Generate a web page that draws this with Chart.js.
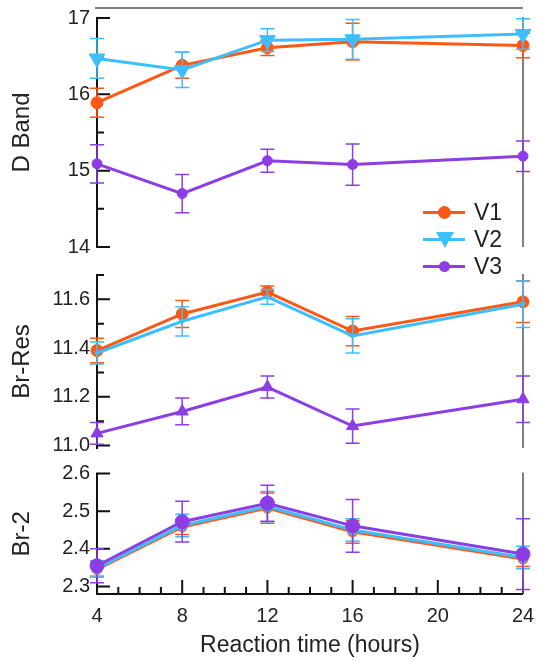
<!DOCTYPE html>
<html>
<head>
<meta charset="utf-8">
<script src="https://cdn.jsdelivr.net/npm/chart.js@4"></script>
<style>
  body { margin: 0; background: #fff; }
  #wrap { position: relative; width: 537px; height: 662px; font-family: "Liberation Sans", Arial, sans-serif; }
  canvas { position: absolute; left: 0; }
  .row { position: absolute; left: 423px; height: 26px; width: 110px; }
  .ln { position: absolute; left: 0; top: 12px; width: 42px; height: 3px; }
  .dot { position: absolute; left: 15px; top: 7px; width: 13px; height: 13px; border-radius: 50%; }
  .tri { position: absolute; left: 13px; top: 6px; width: 0; height: 0;
         border-left: 9px solid transparent; border-right: 9px solid transparent; border-top: 16px solid #3DBEFF; }
  .tx { position: absolute; left: 51px; top: 0; font-size: 23px; line-height: 26px; color: #222; }
</style>
</head>
<body>
<div id="wrap">
  <canvas id="top" width="537" height="257" style="top:0"></canvas>
  <canvas id="mid" width="537" height="204" style="top:252px"></canvas>
  <canvas id="bot" width="537" height="210" style="top:452px"></canvas>

  <div class="row" style="top:199px"><span class="ln" style="background:#FF5714"></span><span class="dot" style="background:#FF5714"></span><span class="tx">V1</span></div>
  <div class="row" style="top:226px"><span class="ln" style="background:#3DBEFF"></span><span class="tri"></span><span class="tx">V2</span></div>
  <div class="row" style="top:253px"><span class="ln" style="background:#8C3DE6"></span><span class="dot" style="background:#8C3DE6;width:11px;height:11px;left:16px;top:8px"></span><span class="tx">V3</span></div>
</div>

<script>
// reaction time (hours)
const hours = [4, 8, 12, 16, 24];
const xMajor = [4, 8, 12, 16, 20, 24];
const xMinor = [5, 6, 7, 9, 10, 11, 13, 14, 15, 17, 18, 19, 21, 22, 23];

// D Band
const dBandV1 = [15.89, 16.38, 16.61, 16.69, 16.64];
const dBandV1Err = [0.19, 0.17, 0.10, 0.24, 0.16];
const dBandV2 = [16.47, 16.32, 16.71, 16.72, 16.79];
const dBandV2Err = [0.26, 0.23, 0.15, 0.26, 0.20];
const dBandV3 = [15.09, 14.70, 15.13, 15.08, 15.19];
const dBandV3Err = [0.25, 0.25, 0.15, 0.27, 0.20];
const dBandTicks = [14, 15, 16, 17];
const dBandMinor = [14.5, 15.5, 16.5];

// Br-Res
const brResV1 = [11.39, 11.54, 11.63, 11.47, 11.59];
const brResV1Err = [0.05, 0.055, 0.025, 0.06, 0.085];
const brResV2 = [11.38, 11.51, 11.61, 11.45, 11.58];
const brResV2Err = [0.045, 0.06, 0.03, 0.07, 0.095];
const brResV3 = [11.05, 11.14, 11.24, 11.08, 11.19];
const brResV3Err = [0.045, 0.055, 0.045, 0.07, 0.095];
const brResTicks = [11.0, 11.2, 11.4, 11.6];
const brResMinor = [11.1, 11.3, 11.5, 11.7];

// Br-2
const br2V1 = [2.345, 2.458, 2.508, 2.445, 2.373];
const br2V1Err = [0.02, 0.02, 0.04, 0.03, 0.02];
const br2V2 = [2.348, 2.462, 2.512, 2.450, 2.377];
const br2V2Err = [0.02, 0.03, 0.04, 0.03, 0.03];
const br2V3 = [2.355, 2.472, 2.521, 2.461, 2.386];
const br2V3Err = [0.045, 0.054, 0.048, 0.07, 0.094];
const br2Ticks = [2.3, 2.4, 2.5, 2.6];
const br2Minor = [];

const ORANGE = '#FF5714', BLUE = '#3DBEFF', PURPLE = '#8C3DE6';
const FONT = '"Liberation Sans", Arial, sans-serif';

// axis lines, inside ticks and error bars
const panelDeco = {
  id: 'panelDeco',
  beforeDatasetsDraw(chart, args, o) {
    const ctx = chart.ctx, a = chart.chartArea;
    const ys = chart.scales.y, xs = chart.scales.x;
    ctx.save();
    ctx.strokeStyle = '#111';
    ctx.lineWidth = 2;
    ctx.beginPath();
    ctx.moveTo(a.left, a.top - 1); ctx.lineTo(a.left, a.bottom + 1);
    o.major.forEach(v => { const y = ys.getPixelForValue(v); ctx.moveTo(a.left, y); ctx.lineTo(a.left + 13, y); });
    o.minor.forEach(v => { const y = ys.getPixelForValue(v); ctx.moveTo(a.left, y); ctx.lineTo(a.left + 7, y); });
    if (o.showX) {
      ctx.moveTo(a.left - 1, a.bottom); ctx.lineTo(a.right, a.bottom);
      xMajor.forEach(v => { const x = xs.getPixelForValue(v); ctx.moveTo(x, a.bottom); ctx.lineTo(x, a.bottom - 14); });
      xMinor.forEach(v => { const x = xs.getPixelForValue(v); ctx.moveTo(x, a.bottom); ctx.lineTo(x, a.bottom - 7); });
    }
    ctx.stroke();
    ctx.strokeStyle = '#555';
    ctx.lineWidth = 1.5;
    ctx.beginPath();
    ctx.moveTo(a.right, a.top - 1); ctx.lineTo(a.right, a.bottom);
    if (o.topLine) { ctx.moveTo(a.left - 2, 8); ctx.lineTo(a.right, 8); }
    ctx.stroke();
    ctx.restore();
  },
  afterDatasetDraw(chart, args) {
    const ds = chart.data.datasets[args.index];
    const ctx = chart.ctx, ys = chart.scales.y, xs = chart.scales.x;
    ctx.save();
    ctx.strokeStyle = ds.borderColor;
    ctx.lineWidth = 1.5;
    ctx.beginPath();
    ds.data.forEach((p, i) => {
      const e = ds.errors[i];
      const x = xs.getPixelForValue(p.x);
      const y1 = ys.getPixelForValue(p.y + e), y2 = ys.getPixelForValue(p.y - e);
      ctx.moveTo(x, y1); ctx.lineTo(x, y2);
      ctx.moveTo(x - 7, y1); ctx.lineTo(x + 7, y1);
      ctx.moveTo(x - 7, y2); ctx.lineTo(x + 7, y2);
    });
    ctx.stroke();
    ctx.restore();
  }
};

function series(label, values, errors, color, point, radius, rotation, order) {
  return {
    label: label,
    data: hours.map((h, i) => ({ x: h, y: values[i] })),
    errors: errors,
    borderColor: color,
    backgroundColor: color,
    borderWidth: 3,
    pointStyle: point,
    pointRadius: radius,
    pointRotation: rotation,
    pointBorderWidth: 1,
    order: order,
    clip: false,
    tension: 0
  };
}

function makePanel(id, p) {
  return new Chart(document.getElementById(id), {
    type: 'line',
    data: { datasets: p.datasets },
    options: {
      responsive: false,
      animation: false,
      events: [],
      layout: { padding: { top: p.padTop, right: 14, left: 0, bottom: p.padBottom } },
      plugins: {
        legend: { display: false },
        tooltip: { enabled: false },
        panelDeco: { major: p.ticks, minor: p.minor, showX: p.showX, topLine: p.topLine }
      },
      scales: {
        x: {
          type: 'linear', min: 4, max: 24,
          display: p.showX,
          afterBuildTicks: s => { s.ticks = xMajor.map(v => ({ value: v })); },
          afterFit: s => {
            s.height = p.showX ? 68 : 0;
            s.paddingLeft = 0;
            s.paddingRight = 0;
          },
          grid: { display: false, drawTicks: false },
          border: { display: false },
          ticks: { padding: 10, color: '#222', font: { family: FONT, size: 20 } },
          title: {
            display: p.showX, text: 'Reaction time (hours)', color: '#222',
            padding: { top: 0, bottom: 3 }, font: { family: FONT, size: 23 }
          }
        },
        y: {
          type: 'linear', min: p.min, max: p.max,
          afterBuildTicks: s => { s.ticks = p.ticks.map(v => ({ value: v })); },
          afterFit: s => {
            s.width = 97;
            s.paddingTop = 0;
            s.paddingBottom = 0;
          },
          grid: { display: false, drawTicks: false },
          border: { display: false },
          ticks: {
            padding: 7, color: '#222', font: { family: FONT, size: 20 },
            callback: v => p.decimals ? v.toFixed(p.decimals) : String(v)
          },
          title: {
            display: true, text: p.title, color: '#222',
            padding: { top: 8, bottom: 0 }, font: { family: FONT, size: 24 }
          }
        }
      }
    },
    plugins: [panelDeco]
  });
}

makePanel('top', {
  title: 'D Band', min: 14, max: 17, ticks: dBandTicks, minor: dBandMinor, decimals: 0,
  padTop: 18, padBottom: 0, showX: false, topLine: true,
  datasets: [
    series('V1', dBandV1, dBandV1Err, ORANGE, 'circle', 6, 0, 3),
    series('V2', dBandV2, dBandV2Err, BLUE, 'triangle', 9, 180, 2),
    series('V3', dBandV3, dBandV3Err, PURPLE, 'circle', 5, 0, 1)
  ]
});

makePanel('mid', {
  title: 'Br-Res', min: 10.99, max: 11.7, ticks: brResTicks, minor: brResMinor, decimals: 1,
  padTop: 23, padBottom: 0, showX: false, topLine: false,
  datasets: [
    series('V1', brResV1, brResV1Err, ORANGE, 'circle', 6, 0, 3),
    series('V2', brResV2, brResV2Err, BLUE, 'triangle', 3, 180, 2),
    series('V3', brResV3, brResV3Err, PURPLE, 'triangle', 7, 0, 1)
  ]
});

makePanel('bot', {
  title: 'Br-2', min: 2.28, max: 2.6, ticks: br2Ticks, minor: br2Minor, decimals: 1,
  padTop: 21.5, padBottom: 0, showX: true, topLine: false,
  datasets: [
    series('V1', br2V1, br2V1Err, ORANGE, 'circle', 5, 0, 3),
    series('V2', br2V2, br2V2Err, BLUE, 'circle', 5, 0, 2),
    series('V3', br2V3, br2V3Err, PURPLE, 'circle', 7, 0, 1)
  ]
});
</script>
</body>
</html>
